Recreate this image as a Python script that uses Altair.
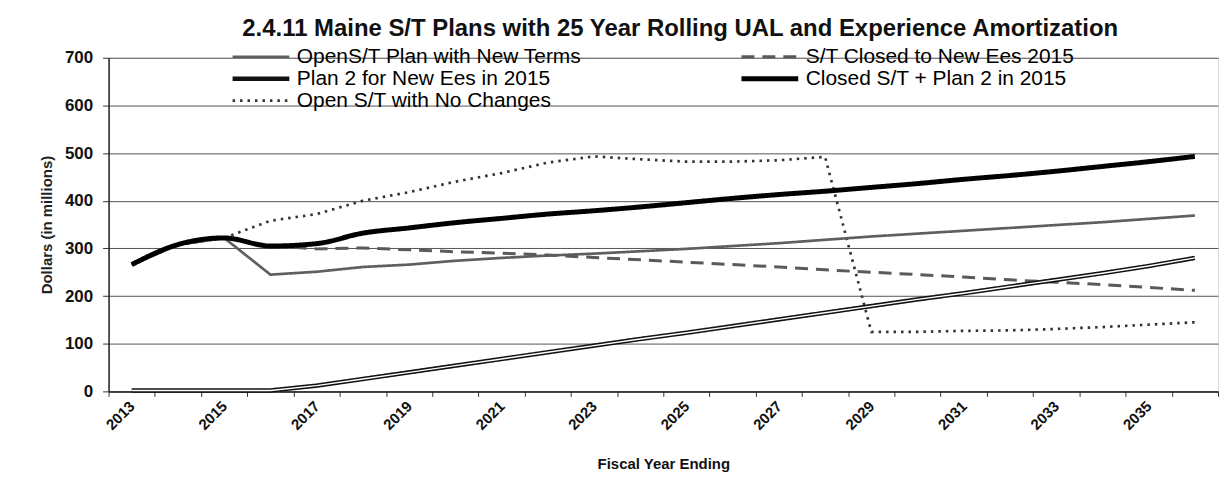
import altair as alt
import pandas as pd

years = list(range(2013, 2037))

# legend order (column-major fill): col 1 = first three, col 2 = last two
series_names = [
    "OpenS/T Plan with New Terms",
    "Plan 2 for New Ees in 2015",
    "Open S/T with No Changes",
    "S/T Closed to New Ees 2015",
    "Closed S/T + Plan 2 in 2015",
]

open_new_terms = [266, 308, 322, 245, 251, 261, 266, 274, 280, 285, 289, 294,
                  299, 305, 311, 318, 325, 331, 337, 343, 349, 355, 362, 369]
plan2_new_ees = [2, 2, 2, 2, 12, 26, 40, 54, 68, 82, 96, 110,
                 123, 137, 151, 165, 179, 193, 206, 220, 234, 248, 263, 280]
open_no_changes = [266, 308, 322, 358, 372, 400, 418, 440, 458, 480, 493, 487,
                   482, 482, 485, 492, 125, 125, 127, 128, 131, 135, 140, 145]
closed_new_ees = [266, 308, 322, 306, 299, 301, 297, 293, 290, 286, 281, 276,
                  271, 266, 261, 255, 250, 245, 240, 234, 229, 224, 218, 212]
closed_plan2 = [266, 308, 322, 305, 310, 332, 343, 354, 363, 372, 379, 387,
                396, 405, 413, 420, 428, 436, 445, 453, 462, 472, 482, 493]

all_values = [open_new_terms, plan2_new_ees, open_no_changes, closed_new_ees, closed_plan2]

rows = []
for name, vals in zip(series_names, all_values):
    for yr, v in zip(years, vals):
        rows.append({"year": yr, "value": v, "series": name})
df = pd.DataFrame(rows)

colors = ["#5f5f5f", "#111111", "#333333", "#5a5a5a", "#000000"]
dashes = [[1, 0], [1, 0], [2.5, 5], [13, 8], [1, 0]]
widths = [2.7, 4.5, 2.7, 3, 5]

FONT = "Liberation Sans"

legend = alt.Legend(
    title=None, orient="none", legendX=122, legendY=-11, columns=2,
    columnPadding=158, rowPadding=1, symbolType="stroke", symbolSize=3249,
    clipHeight=20, labelFontSize=21, labelFont=FONT, labelColor="#000000",
    labelOffset=5, padding=0, labelLimit=400, gridAlign="each",
)

x_enc = alt.X(
    "year:O", title="Fiscal Year Ending",
    scale=alt.Scale(paddingInner=0, paddingOuter=0),
    axis=alt.Axis(
        labelAngle=315, labelAlign="right", labelBaseline="middle",
        labelExpr="datum.value % 2 == 1 ? datum.label : ''",
        labelOverlap=False, labelFont=FONT, labelFontSize=15, labelFontWeight="bold",
        labelColor="#111111", labelPadding=7, tickBand="extent", tickSize=5,
        tickColor="#333333", domainColor="#222222", domainWidth=1.5,
        titleFont=FONT, titleFontSize=15, titleFontWeight="bold", titleColor="#111111",
        titlePadding=24,
    ),
)
y_enc = alt.Y(
    "value:Q", title="Dollars (in millions)",
    scale=alt.Scale(domain=[0, 700], nice=False),
    axis=alt.Axis(
        values=[0, 100, 200, 300, 400, 500, 600, 700], grid=True,
        gridColor="#555555", gridWidth=1, labelFont=FONT, labelFontSize=17,
        labelFontWeight="bold", labelColor="#111111", tickSize=6, tickColor="#333333",
        labelPadding=10, domainColor="#222222", domainWidth=1.5,
        titleFont=FONT, titleFontSize=15, titleFontWeight="bold", titleColor="#222222",
        titlePadding=10,
    ),
)

color_enc = alt.Color("series:N", scale=alt.Scale(domain=series_names, range=colors), legend=legend)
dash_enc = alt.StrokeDash("series:N", scale=alt.Scale(domain=series_names, range=dashes), legend=legend)
width_enc = alt.StrokeWidth("series:N", scale=alt.Scale(type="ordinal", domain=series_names, range=widths), legend=legend)

base = alt.Chart(df).encode(x=x_enc, y=y_enc, color=color_enc, strokeDash=dash_enc, strokeWidth=width_enc)


def layer_for(name, interp="linear"):
    return base.transform_filter(alt.datum.series == name).mark_line(interpolate=interp, strokeCap="butt")


plan2_white = alt.Chart(df).transform_filter(
    alt.datum.series == series_names[1]
).mark_line(color="white", strokeWidth=1.4, strokeCap="butt").encode(x="year:O", y="value:Q")

chart = alt.layer(
    layer_for(series_names[2]),
    layer_for(series_names[0]),
    layer_for(series_names[3]),
    layer_for(series_names[1]),
    plan2_white,
    layer_for(series_names[4], "monotone"),
).properties(
    width=1114, height=335,
    title=alt.TitleParams(
        "2.4.11 Maine S/T Plans with 25 Year Rolling UAL and Experience Amortization",
        font=FONT, fontSize=24, fontWeight="bold", color="#111111",
        anchor="middle", dx=17, offset=6,
    ),
    autosize=alt.AutoSizeParams(type="none"),
    padding={"left": 101, "top": 49, "right": 5, "bottom": 84},
).configure_view(stroke="#333333", strokeWidth=1).configure(background="white")

chart.save("out.html", embed_options={"renderer": "svg", "actions": False})
